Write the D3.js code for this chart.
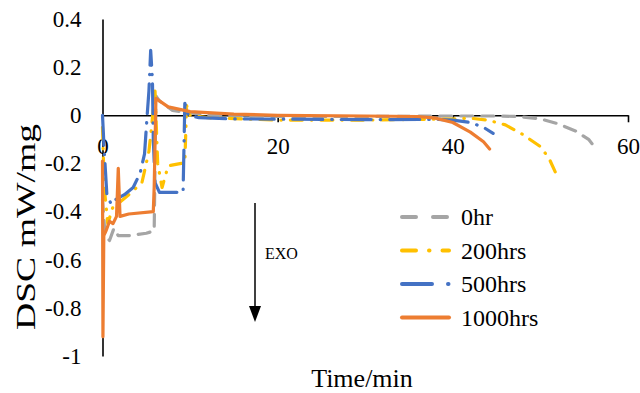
<!DOCTYPE html>
<html><head><meta charset="utf-8">
<script src="https://cdn.jsdelivr.net/npm/d3@7"></script>
<style>body{margin:0;background:#fff}svg{display:block}text{font-family:"Liberation Serif","Times New Roman",serif !important;fill:#000}</style>
</head><body><svg id="c" width="640" height="393"></svg>
<script>
const seriesNames = ["0hr", "200hrs", "500hrs", "1000hrs"];
const seriesColors = ["#A5A5A5", "#FFC000", "#4472C4", "#ED7D31"];
const xTicks = [0, 20, 40, 60];
const yTicks = [0.4, 0.2, 0, -0.2, -0.4, -0.6, -0.8, -1];
const yTickLabels = ["0.4", "0.2", "0", "-0.2", "-0.4", "-0.6", "-0.8", "-1"];

const t0 = [0, 0.3, 0.8, 1.3, 1.8, 3, 5, 5.9, 6.1, 6.5, 8, 12, 20, 30, 40, 45, 47.5, 50, 52, 54, 55.5, 56.5];
const v0 = [-0.35, -0.5, -0.52, -0.47, -0.5, -0.5, -0.49, -0.48, 0.08, 0.06, 0.02, 0, -0.005, -0.005, -0.003, -0.003, -0.005, -0.015, -0.035, -0.065, -0.1, -0.145];

const t200 = [0, 0.2, 0.6, 1.2, 2, 3, 4.5, 5.3, 5.6, 6.0, 6.3, 6.8, 7.5, 9, 9.4, 9.6, 10, 12, 20, 30, 40, 42, 44, 46, 48, 50, 51, 52];
const v200 = [-0.05, -0.3, -0.45, -0.38, -0.36, -0.33, -0.28, -0.15, -0.05, 0.1, -0.2, -0.3, -0.21, -0.2, -0.2, 0.04, 0, -0.01, -0.02, -0.02, -0.015, -0.012, -0.02, -0.04, -0.08, -0.13, -0.18, -0.26];

const t500 = [0, 0.2, 0.5, 1, 1.5, 2.5, 3.5, 4.3, 4.8, 5.1, 5.3, 5.5, 5.7, 5.8, 6.0, 6.5, 8, 9.2, 9.4, 9.8, 11, 15, 30, 38, 40, 42, 43.5, 44.6];
const v500 = [0, -0.15, -0.33, -0.37, -0.35, -0.33, -0.3, -0.24, -0.16, 0, 0.1, 0.27, 0.15, -0.1, -0.28, -0.32, -0.32, -0.32, 0.05, 0, -0.01, -0.015, -0.018, -0.017, -0.02, -0.03, -0.05, -0.075];

const t1000 = [0, 0.05, 0.15, 0.4, 0.8, 1.2, 1.6, 1.8, 2.0, 3, 5.8, 5.9, 6.1, 6.5, 7.5, 10, 15, 20, 30, 36, 38, 40, 42, 43.5, 44.2];
const v1000 = [-0.19, -0.92, -0.5, -0.48, -0.44, -0.45, -0.42, -0.22, -0.42, -0.41, -0.40, -0.30, 0.07, 0.06, 0.035, 0.015, 0.005, 0, -0.003, -0.005, -0.012, -0.03, -0.07, -0.11, -0.14];

const times = [t0, t200, t500, t1000];
const values = [v0, v200, v500, v1000];
const dashes = ["12,9", "12,9,0.5,9", "30,9,0.5,9", null];
const serif = "'Liberation Serif','Times New Roman',serif";

const svg = d3.select("#c");
const x = d3.scaleLinear().domain([0, 60]).range([102.5, 628]);
const y = d3.scaleLinear().domain([-1, 0.4]).range([356, 19]);

// axes
const yAxis = svg.append("g").attr("transform", `translate(${x(0)},0)`)
  .call(d3.axisLeft(y).tickValues(yTicks).tickSize(0).tickFormat((d, i) => yTickLabels[i]));
yAxis.attr("font-family", null).attr("font-size", null);
yAxis.select(".domain").attr("stroke", "#000").attr("stroke-width", 1.6);
yAxis.selectAll("text").attr("x", -21).style("font-size", "23px").style("font-family", serif);

const xAxis = svg.append("g").attr("transform", `translate(0,${y(0)})`)
  .call(d3.axisBottom(x).tickValues(xTicks).tickSize(7).tickSizeOuter(0).tickFormat(d3.format("d")));
xAxis.attr("font-family", null).attr("font-size", null);
xAxis.select(".domain").attr("stroke", "#000").attr("stroke-width", 1.6);
xAxis.selectAll("line").attr("stroke", "#000").attr("stroke-width", 1.6);
xAxis.selectAll("text").attr("y", 22).attr("dy", "0.71em").style("font-size", "23px").style("font-family", serif);

// series
const line = d3.line().x(d => x(d[0])).y(d => y(d[1]));
seriesNames.forEach((n, i) => {
  const pts = times[i].map((t, j) => [t, values[i][j]]);
  const p = svg.append("path").datum(pts).attr("d", line)
    .attr("fill", "none").attr("stroke", seriesColors[i]).attr("stroke-width", 3.2)
    .attr("stroke-linecap", "round").attr("stroke-linejoin", "round");
  if (dashes[i]) p.attr("stroke-dasharray", dashes[i]);
});

// legend
const legY = [217, 250.5, 284, 317.5];
seriesNames.forEach((n, i) => {
  const p = svg.append("line").attr("x1", 402).attr("x2", 449).attr("y1", legY[i]).attr("y2", legY[i])
    .attr("stroke", seriesColors[i]).attr("stroke-width", 4).attr("stroke-linecap", "round");
  if (dashes[i]) p.attr("stroke-dasharray", i === 0 ? "14,17" : (i === 1 ? "14,13,0.5,13" : "30,16,0.5,12"));
  svg.append("text").attr("x", 461).attr("y", legY[i] + 8).style("font-size", "24px").style("font-family", serif).text(n);
});

// EXO arrow
svg.append("line").attr("x1", 255).attr("x2", 255).attr("y1", 203).attr("y2", 308).attr("stroke", "#000").attr("stroke-width", 1.5);
svg.append("path").attr("d", "M249,306 L261,306 L255,322 Z").attr("fill", "#000");
svg.append("text").attr("x", 265).attr("y", 259).style("font-size", "16px").style("font-family", serif).text("EXO");

// titles
svg.append("text").attr("x", 362).attr("y", 387).attr("text-anchor", "middle").style("font-size", "26px").style("font-family", serif).text("Time/min");
svg.append("text").attr("transform", "translate(35,227) rotate(-90)").attr("text-anchor", "middle")
  .attr("textLength", 206).attr("lengthAdjust", "spacingAndGlyphs")
  .style("font-size", "28px").style("font-family", serif).text("DSC mW/mg");
</script></body></html>
